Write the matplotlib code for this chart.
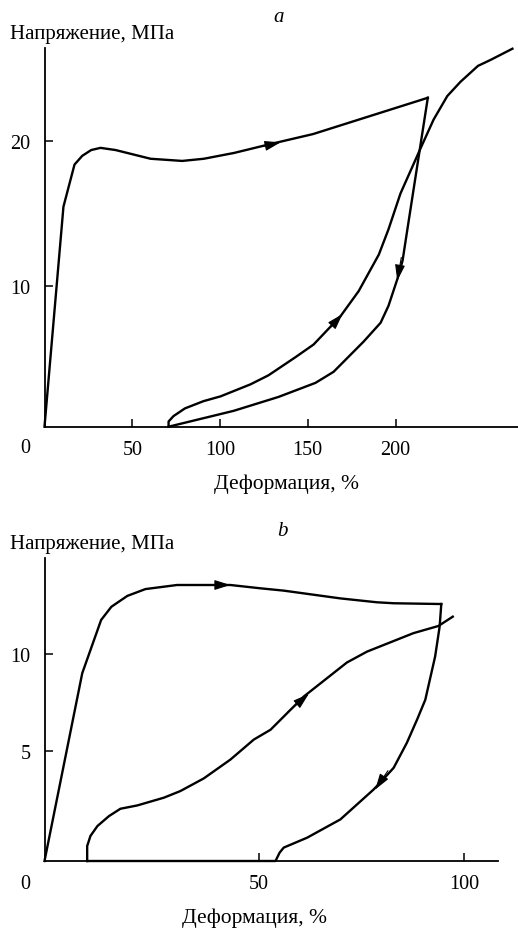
import matplotlib
matplotlib.use('Agg')
import matplotlib.pyplot as plt

plt.rcParams['font.family'] = ['Liberation Serif', 'DejaVu Serif']
plt.rcParams['font.size'] = 14

W, H = 518, 929

# panel a
a_load_x = [0, 10.8, 17.1, 21.5, 26.6, 31.9, 40.5, 60.4, 78.5, 90.8, 108, 130, 153, 218.4]
a_load_y = [0.34, 15.5, 18.4, 19.0, 19.4, 19.55, 19.4, 18.8, 18.65, 18.8, 19.2, 19.85, 20.5, 23.0]
a_unload_x = [218.4, 206.8, 204.0, 201.1, 196.0, 191.5, 181.8, 164.7, 154.4, 133.3, 107.7, 70.7]
a_unload_y = [23.0, 13.97, 11.77, 10.53, 8.67, 7.5, 6.2, 4.12, 3.36, 2.39, 1.43, 0.34]
a_reload_x = [70.7, 70.7, 73.5, 80, 90.6, 100.3, 117.4, 127.6, 143, 153.3, 168.7, 179, 190.5,
              196, 202.8, 214.2, 221.7, 229.5, 237, 247, 254, 266.6]
a_reload_y = [0.34, 0.7, 1.07, 1.6, 2.1, 2.43, 3.26, 3.88, 5.13, 6.0, 7.96, 9.68, 12.2,
              13.94, 16.4, 19.5, 21.5, 23.12, 24.1, 25.2, 25.6, 26.38]
# arrows: (tail x, tail y, tip x, tip y)
a_arrows = [(124, 19.64, 134.5, 19.93), (203.3, 12.0, 201.0, 10.4), (163, 7.2, 169.8, 8.1)]

# panel b
b_load_x = [-2.2, 7.0, 11.6, 14.1, 18.0, 22.4, 30.1, 43.1, 50.4, 56.1, 69.9, 78.8, 82.9, 94.5]
b_load_y = [-0.65, 9.02, 11.76, 12.44, 13.0, 13.35, 13.56, 13.56, 13.39, 13.27, 12.87, 12.67, 12.62, 12.58]
b_unload_x = [94.5, 94.1, 93.0, 90.6, 88.6, 86.1, 82.9, 79.6, 78.0, 69.9, 61.8, 56.1, 55.1, 54.1, 8.2]
b_unload_y = [12.58, 11.42, 9.88, 7.65, 6.63, 5.43, 4.15, 3.38, 3.03, 1.49, 0.55, 0.04, -0.22, -0.65, -0.65]
b_reload_x = [8.2, 8.2, 9.0, 10.7, 13.5, 16.3, 20.4, 26.9, 30.9, 36.6, 43.1, 48.8, 52.9, 61.0,
              71.5, 76.4, 87.7, 93.8, 97.3]
b_reload_y = [-0.65, 0.12, 0.64, 1.15, 1.66, 2.04, 2.21, 2.61, 2.95, 3.6, 4.57, 5.6, 6.11, 7.82,
              9.57, 10.13, 11.08, 11.45, 11.93]
b_arrows = [(36, 13.56, 43.1, 13.56), (57, 7.0, 62.2, 7.95), (81.5, 4.0, 78.4, 3.03)]


def px(x, y):
    return x / W, 1 - y / H


def setup(ax, xlim, ylim, xticks, yticks):
    ax.set_xlim(*xlim)
    ax.set_ylim(*ylim)
    for s in ['top', 'right']:
        ax.spines[s].set_visible(False)
    for s in ['left', 'bottom']:
        ax.spines[s].set_linewidth(1.3)
    ax.set_xticks(xticks)
    ax.set_yticks(yticks)
    ax.tick_params(axis='x', direction='in', length=6, width=1.1, pad=9.5, labelsize=14.5)
    ax.tick_params(axis='y', direction='in', length=6, width=1.1, pad=10, labelsize=14.5)


def draw(ax, curves, arrows):
    for xs, ys in curves:
        ax.plot(xs, ys, color='black', lw=1.7, clip_on=False, solid_joinstyle='round')
    for x0, y0, x1, y1 in arrows:
        ax.annotate('', xy=(x1, y1), xytext=(x0, y0),
                    arrowprops=dict(arrowstyle='-|>,head_length=0.7,head_width=0.22',
                                    color='black', lw=0.8, shrinkA=0, shrinkB=0,
                                    mutation_scale=14))


fig = plt.figure(figsize=(W / 100, H / 100), dpi=100)

# panel a
l, b = px(44.5, 427.7)
r, t = px(517.5, 49)
ax1 = fig.add_axes([l, b, r - l, t - b])
setup(ax1, (0, 269.5), (0.34, 26.43), [50, 100, 150, 200], [10, 20])
draw(ax1, [(a_load_x, a_load_y), (a_unload_x, a_unload_y), (a_reload_x, a_reload_y)], a_arrows)

# panel b
l, b = px(44.5, 862)
r, t = px(497.5, 559)
ax2 = fig.add_axes([l, b, r - l, t - b])
setup(ax2, (-2.2, 108.2), (-0.65, 14.95), [50, 100], [5, 10])
draw(ax2, [(b_load_x, b_load_y), (b_unload_x, b_unload_y), (b_reload_x, b_reload_y)], b_arrows)

# texts
fs = 15
fig.text(*px(10, 34), 'Напряжение, МПа', ha='left', va='center', fontsize=fs)
fig.text(*px(279, 18), 'a', ha='center', va='center', fontsize=fs, style='italic')
fig.text(*px(25, 449), '0', ha='center', va='center', fontsize=14.5)
fig.text(*px(287, 484), 'Деформация, %', ha='center', va='center', fontsize=fs + 0.5)

fig.text(*px(10, 544), 'Напряжение, МПа', ha='left', va='center', fontsize=fs)
fig.text(*px(282, 532), 'b', ha='center', va='center', fontsize=fs, style='italic')
fig.text(*px(25, 885), '0', ha='center', va='center', fontsize=14.5)
fig.text(*px(254, 918), 'Деформация, %', ha='center', va='center', fontsize=fs + 0.5)

fig.savefig('out.png', dpi=100)
